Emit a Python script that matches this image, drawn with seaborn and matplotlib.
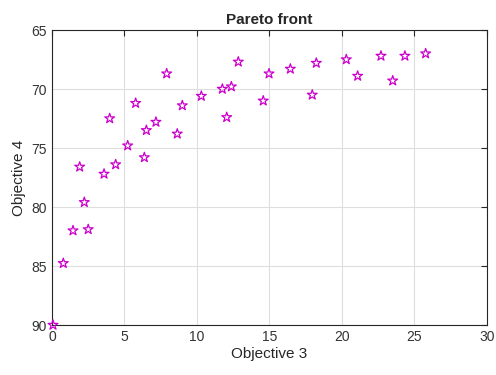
import matplotlib
matplotlib.use("Agg")
import matplotlib.pyplot as plt
import pandas as pd
import seaborn as sns

# values
obj3 = [0.07, 0.78, 1.45, 2.5, 2.23, 3.59, 1.91, 4.39, 3.98, 5.22,
        6.37, 6.51, 5.77, 7.17, 7.91, 8.64, 8.99, 10.3, 11.75, 12.37,
        12.05, 12.85, 14.57, 14.97, 16.44, 18.23, 17.95, 20.3, 21.08, 22.69,
        23.5, 24.34, 25.77]
obj4 = [90.0, 84.77, 82.0, 81.9, 79.6, 77.2, 76.6, 76.4, 72.5, 74.8,
        75.8, 73.5, 71.2, 72.8, 68.7, 73.8, 71.4, 70.6, 70.0, 69.8,
        72.4, 67.7, 71.0, 68.7, 68.3, 67.8, 70.5, 67.5, 68.9, 67.2,
        69.3, 67.2, 67.0]
x_ticks = [0, 5, 10, 15, 20, 25, 30]
y_ticks = [65, 70, 75, 80, 85, 90]

df = pd.DataFrame({"Objective 3": obj3, "Objective 4": obj4})

sns.set_style("white")
plt.rcParams["font.family"] = ["Liberation Sans", "DejaVu Sans"]

fig = plt.figure(figsize=(4.96, 3.75), dpi=100)
ax = fig.add_axes([0.1048, 0.1333, 0.877, 0.7867])

sns.scatterplot(data=df, x="Objective 3", y="Objective 4", marker="*", s=55,
                facecolor="none", edgecolor="#cc00cc", linewidth=0.9,
                ax=ax, zorder=3, clip_on=False)

ax.set_xlim(0, 30)
ax.set_ylim(90, 65)
ax.set_xticks(x_ticks)
ax.set_yticks(y_ticks)
ax.grid(True, color="#dedede", linewidth=0.8)
ax.set_axisbelow(True)
for sp in ax.spines.values():
    sp.set_visible(True)
    sp.set_color("#262626")
    sp.set_linewidth(0.8)
ax.tick_params(direction="in", length=4, width=0.8, colors="#262626",
               labelsize=10, top=True, right=True, labelcolor="#333333")

ax.set_xlabel("Objective 3", fontsize=11, color="#262626", labelpad=2)
ax.set_ylabel("Objective 4", fontsize=11, color="#262626", labelpad=4)
ax.set_title("Pareto front", fontsize=11, fontweight="bold", pad=4)

fig.savefig("out.png", dpi=100)
